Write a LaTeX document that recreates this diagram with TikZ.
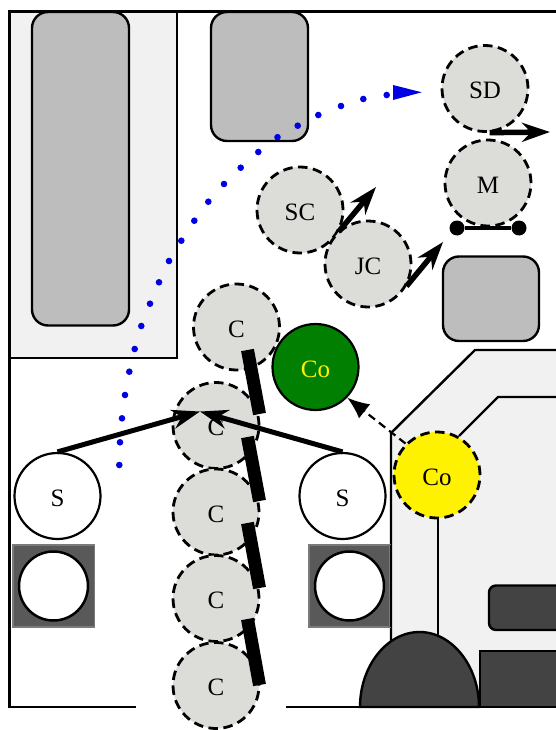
\documentclass[tikz,border=0pt]{standalone}
\usepackage{fontspec}
\setmainfont{Liberation Serif}
\usetikzlibrary{arrows.meta}
\definecolor{panel}{HTML}{F1F1F1}
\definecolor{block}{HTML}{BDBDBD}
\definecolor{dark}{HTML}{434343}
\definecolor{mid}{HTML}{595959}
\definecolor{crew}{HTML}{DCDDD9}
\definecolor{grn}{HTML}{007F00}
\newcommand{\lbl}[1]{\raisebox{-2pt}[\height][0pt]{#1}}
\tikzset{
  base/.style={line width=2.4pt,line join=miter},
  blockbox/.style={base,fill=block,rounded corners=16pt},
  person/.style={circle,inner sep=0pt,minimum size=86pt,font=\fontsize{25}{29}\selectfont},
  crewc/.style={person,fill=crew,draw=black,line width=2.8pt,dash pattern=on 9.5pt off 5.5pt},
  stool/.style={person,fill=white,draw=black,line width=2.2pt},
  seat/.style={circle,inner sep=0pt,minimum size=69pt,fill=white,draw=black,line width=2.5pt},
  bar/.style={line width=13pt,line cap=butt},
  move/.style={line width=5.5pt,-{Stealth[length=28pt,width=19pt,inset=9pt]}},
  walk/.style={line width=5pt,-{Stealth[length=28pt,width=19pt,inset=9pt]}},
  dotc/.style={circle,fill=black,inner sep=0pt,minimum size=15pt},
}
\begin{document}
\begin{tikzpicture}[x=1pt,y=-1pt]
\useasboundingbox (0,0) rectangle (556,730);
\clip (0,0) rectangle (556,730);
% rooms
\draw[base,fill=panel] (9.5,11.5) rectangle (177,358);
\draw[base,fill=panel] (391,720) -- (391,433) -- (475,350) -- (570,350) -- (570,720) -- cycle;
\fill[white] (380,708) rectangle (570,730);
\draw[base] (459,436) -- (498,397) -- (570,397);
\draw[base] (438,518) -- (438,640);
\draw[base] (136,707) -- (9.5,707) -- (9.5,11.5) -- (570,11.5);
\draw[base] (286,707) -- (570,707);
% furniture
\draw[blockbox] (32,12) rectangle (129,325.5);
\draw[blockbox] (211,12) rectangle (308,141);
\draw[blockbox] (443,256.5) rectangle (539,341);
\draw[base,fill=dark,rounded corners=7pt] (489,585.5) rectangle (575,630);
\draw[base,fill=dark] (480,651) rectangle (570,707);
\draw[base,fill=dark] (360,707) .. controls (360,666) and (387,632) .. (419.5,632) .. controls (452,632) and (479,666) .. (479,707) -- cycle;
\draw[line width=1.5pt,draw=mid!80!white,fill=mid] (13,545) rectangle (94.5,627);
\draw[line width=1.5pt,draw=mid!80!white,fill=mid] (309,545) rectangle (390,627);
\draw[line width=2.4pt] (391,545) -- (391,627);
\node[seat] (seatA) at (53.5,586) {};
\node[seat] (seatB) at (349.5,586) {};
% path of dots
\foreach \px/\py in {119.3/465,120/442.3,122/418.3,125/395,129.3/371.7,134.7/349,141.3/326,150/303.7,159/282.3,169/261,181.3/240.7,194.3/220.7,208.3/201.7,224/184,240.7/167.7,258.3/152,277.5/137.2,297.7/125.7,318.3/115,341/106,363.3/99,386.7/95}
  \fill[blue!90!black] (\px,\py) circle (3.3pt);
\fill[blue!90!black] (393,85) -- (421.7,92.3) -- (393,100) -- cycle;
% people
\node[crewc] (c1) at (236.5,327) {\lbl{C}};
\node[crewc] (c2) at (216,425.5) {\lbl{C}};
\node[crewc] (c3) at (216,512) {\lbl{C}};
\node[crewc] (c4) at (216,598.5) {\lbl{C}};
\node[crewc] (c5) at (216,685.5) {\lbl{C}};
\node[crewc] (sc) at (300,210) {\lbl{SC}};
\node[crewc] (jc) at (368,264) {\lbl{JC}};
\node[crewc] (sd) at (485,88.5) {\lbl{SD}};
\node[crewc] (m) at (488,183) {\lbl{M}};
\node[person,fill=grn,draw=black,line width=2.2pt,text=yellow] (cog) at (315.5,367) {\lbl{Co}};
\node[crewc,fill=yellow] (coy) at (437,475) {\lbl{Co}};
\node[stool] (s1) at (57.5,496) {\lbl{S}};
\node[stool] (s2) at (342.5,496) {\lbl{S}};
% bars
\foreach \a/\b [count=\i] in {350/414,437/501,523/588,619/685}{
  \coordinate (bt\i) at (247.5,\a);
  \coordinate (bb\i) at (259.5,\b);
  \draw[bar] (bt\i) -- (bb\i);
}
% M bar
\node[dotc] (md1) at (457,228) {};
\node[dotc] (md2) at (519,228) {};
\draw[line width=4.5pt] (md1) -- (md2);
% arrows
\coordinate (apex) at (200,411.5);
\coordinate (sct) at (376,187);
\coordinate (jct) at (443,242);
\coordinate (sdt) at (550,132);
\draw[walk] (s1.north) -- (apex);
\draw[walk] (s2.north) -- (apex);
\draw[move] (sc.-29) -- (sct);
\draw[move] (jc.-30) -- (jct);
\draw[move] (sd.-84) -- (sdt);
\draw[line width=2.2pt,dash pattern=on 8pt off 5pt,-{Latex[length=22pt,width=18pt]}] (coy.135) -- (cog.-44);
\end{tikzpicture}
\end{document}
